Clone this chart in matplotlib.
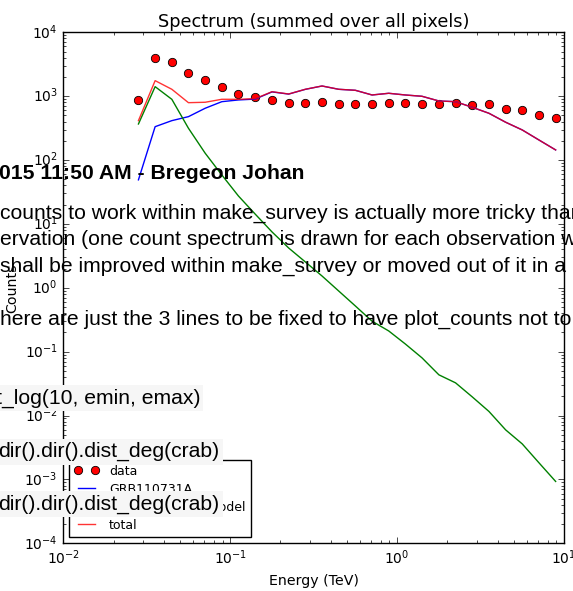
"""
Counts spectrum (summed over all pixels) with a page snippet drawn on top
"""

import matplotlib
matplotlib.use("Agg")
import matplotlib.pyplot as plt
import numpy as np
from matplotlib.ticker import LogLocator

plt.style.use("classic")
plt.rcParams["mathtext.fontset"] = "dejavusans"

# Bin centres (TeV)
energy = [0.0282, 0.0355, 0.0447, 0.0562, 0.0708, 0.0891, 0.112, 0.141, 0.178,
          0.224, 0.282, 0.355, 0.447, 0.562, 0.708, 0.891, 1.12, 1.41, 1.78,
          2.24, 2.82, 3.55, 4.47, 5.62, 7.08, 8.91]

data_counts = [873, 3960, 3394, 2333, 1774, 1408, 1094, 961, 873, 774, 774,
               804, 747, 747, 747, 774, 774, 764, 747, 774, 721, 747, 637, 601,
               508, 461]

grb_counts = [49, 333, 414, 478, 647, 820, 873, 900, 1167, 1078, 1280, 1443,
              1281, 1236, 1044, 1110, 1044, 996, 841, 820, 670, 540, 391, 296,
              206, 144]

bkg_counts = [367, 1409, 893, 315, 128, 58.4, 27.4, 14.3, 7.5, 4.2, 2.54, 1.53,
              0.89, 0.52, 0.30, 0.211, 0.132, 0.080, 0.0434, 0.0325, 0.0196,
              0.0116, 0.00597, 0.0036, 0.00182, 0.00093]

total_counts = [414, 1750, 1282, 791, 803, 894, 894, 914, 1175, 1082, 1282,
                1445, 1282, 1237, 1044, 1110, 1044, 996, 841, 820, 670, 540,
                391, 296, 206, 144]

legend_labels = ["data", "GRB110731A", "CTABackgroundModel", "total"]

# Page text that sits over the figure: (text, x px, baseline px, bold)
page_lines = [
    ("015 11:50 AM - Bregeon Johan", -1, 179.5, True),
    ("counts to work within make_survey is actually more tricky than expected", 0, 218.3, False),
    ("ervation (one count spectrum is drawn for each observation with", 0, 245, False),
    ("shall be improved within make_survey or moved out of it in a", 0, 271.7, False),
    ("here are just the 3 lines to be fixed to have plot_counts not to", 0, 325, False),
]
code_lines = [
    ("t_log(10, emin, emax)", -4.5, 403.5),
    ("dir().dir().dist_deg(crab)", -1.5, 457.1),
    ("dir().dir().dist_deg(crab)", -1.5, 509.6),
]

W, H = 573, 591
fig = plt.figure(figsize=(W / 100, H / 100), dpi=100, facecolor="white")
ax = fig.add_axes([63.3 / W, 1 - 543.3 / H, (564 - 63.3) / W, (543.3 - 32.3) / H])

ax.plot(energy, data_counts, "o", color="red", mec="black", mew=0.6,
        markersize=6, label=legend_labels[0])
ax.plot(energy, grb_counts, "-", color="blue", lw=1, label=legend_labels[1])
ax.plot(energy, bkg_counts, "-", color="green", lw=1, label=legend_labels[2])
ax.plot(energy, total_counts, "-", color="red", alpha=0.8, lw=1, label=legend_labels[3])

ax.set_xscale("log")
ax.set_yscale("log")
ax.set_xlim(1e-2, 1e1)
ax.set_ylim(1e-4, 1e4)
for axis in (ax.xaxis, ax.yaxis):
    axis.set_major_locator(LogLocator(base=10, numticks=20))
    axis.set_minor_locator(LogLocator(base=10, subs=np.arange(2, 10), numticks=100))
ax.tick_params(labelsize=10)
ax.tick_params(which="minor", labelleft=False, labelbottom=False)
ax.set_title("Spectrum (summed over all pixels)", fontsize=12.8, pad=4)
ax.set_xlabel("Energy (TeV)", fontsize=10.2)
ax.set_ylabel("Counts", fontsize=10.2)
ax.xaxis.set_label_coords(0.5, -(574 - 543.3) / 511)
ax.yaxis.set_label_coords((19 - 63.3) / 500.7, 0.5)

ax.legend(loc="lower left", bbox_to_anchor=((69 - 63.3) / 500.7, (543.3 - 536.7) / 511),
          borderaxespad=0, fontsize=9, numpoints=2, handlelength=2.0,
          handletextpad=0.8, borderpad=0.4, labelspacing=0.4, fancybox=False)

page_font = ["Liberation Sans", "DejaVu Sans"]
for text, x, y, bold in page_lines:
    fig.text(x / W, 1 - y / H, text, fontsize=15.2, family=page_font,
             weight="bold" if bold else "normal", va="baseline", ha="left",
             zorder=10)
for text, x, y in code_lines:
    fig.text(x / W, 1 - y / H, text, fontsize=15.2, family=page_font,
             va="baseline", ha="left", zorder=10,
             bbox=dict(boxstyle="square,pad=0.16", fc="#f6f6f6", ec="none"))

fig.savefig("out.png", dpi=100, facecolor="white")
